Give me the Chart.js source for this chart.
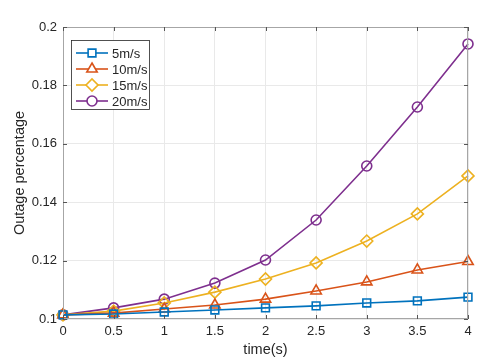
<!DOCTYPE html>
<html>
<head>
<meta charset="utf-8">
<script src="https://cdn.jsdelivr.net/npm/chart.js@4"></script>
<style>
  html, body { margin: 0; padding: 0; background: #fff; }
  #wrap { width: 485px; height: 363px; }
</style>
</head>
<body>
<div id="wrap"><canvas id="outageChart"></canvas></div>
<script>
// data
const times = [0, 0.5, 1, 1.5, 2, 2.5, 3, 3.5, 4];
const speed5 = [0.1014, 0.1017, 0.1024, 0.1031, 0.1038, 0.1045, 0.1055, 0.1062, 0.1075];
const speed10 = [0.1014, 0.1020, 0.1034, 0.1048, 0.1068, 0.1096, 0.1127, 0.1168, 0.1197];
const speed15 = [0.1014, 0.1027, 0.1055, 0.1092, 0.1137, 0.1192, 0.1267, 0.1360, 0.1490];
const speed20 = [0.1014, 0.1038, 0.1068, 0.1123, 0.1202, 0.1339, 0.1524, 0.1726, 0.1942];
const seriesNames = ['5m/s', '10m/s', '15m/s', '20m/s'];
const xTicks = [0, 0.5, 1, 1.5, 2, 2.5, 3, 3.5, 4];
const yTicks = [0.1, 0.12, 0.14, 0.16, 0.18, 0.2];

const FONT = 'Liberation Sans, Arial, Helvetica, sans-serif';
const TXT = '#262626';

function pts(ys) {
    return times.map((t, i) => ({ x: t, y: ys[i] }));
}

function series(label, ys, color, style, radius) {
    return {
        label: label,
        data: pts(ys),
        borderColor: color,
        backgroundColor: color,
        borderWidth: 1.6,
        pointStyle: style,
        pointRadius: radius,
        pointBorderWidth: 1.6,
        pointBackgroundColor: 'rgba(255,255,255,0)',
        pointBorderColor: color,
        tension: 0
    };
}

// MATLAB-like box with inward ticks and legend in the upper left
const boxPlugin = {
    id: 'boxPlugin',
    afterDatasetsDraw(chart) {
        const ctx = chart.ctx;
        const a = chart.chartArea;
        const xs = chart.scales.x, ys = chart.scales.y;
        ctx.save();
        ctx.strokeStyle = '#a6a6a6';
        ctx.lineWidth = 1;
        ctx.strokeRect(a.left + 0.5, a.top + 0.5, a.right - a.left - 1, a.bottom - a.top - 1);
        ctx.strokeStyle = '#555';
        ctx.beginPath();
        xTicks.forEach(v => {
            const px = Math.round(xs.getPixelForValue(v)) + 0.5;
            ctx.moveTo(px, a.bottom); ctx.lineTo(px, a.bottom - 4);
            ctx.moveTo(px, a.top); ctx.lineTo(px, a.top + 4);
        });
        yTicks.forEach(v => {
            const py = Math.round(ys.getPixelForValue(v)) + 0.5;
            ctx.moveTo(a.left, py); ctx.lineTo(a.left + 4, py);
            ctx.moveTo(a.right, py); ctx.lineTo(a.right - 4, py);
        });
        ctx.stroke();

        // legend
        const lx = 71, ly = 40, lw = 78, lh = 69;
        ctx.fillStyle = '#fff';
        ctx.fillRect(lx, ly, lw, lh);
        ctx.strokeStyle = '#262626';
        ctx.lineWidth = 0.8;
        ctx.strokeRect(lx + 0.5, ly + 0.5, lw, lh);
        chart.data.datasets.forEach((ds, i) => {
            const cy = 53 + i * 16;
            ctx.strokeStyle = ds.borderColor;
            ctx.lineWidth = 1.6;
            ctx.beginPath();
            ctx.moveTo(76, cy); ctx.lineTo(108, cy);
            ctx.stroke();
            ctx.fillStyle = '#fff';
            Chart.helpers.drawPoint(ctx, {
                pointStyle: ds.pointStyle,
                radius: ds.pointRadius,
                borderWidth: 1.6
            }, 92, cy);
            ctx.fillStyle = TXT;
            ctx.font = '13px ' + FONT;
            ctx.textBaseline = 'middle';
            ctx.textAlign = 'left';
            ctx.fillText(seriesNames[i], 112, cy + 1);
        });
        ctx.restore();
    }
};

new Chart(document.getElementById('outageChart'), {
    type: 'line',
    data: {
        datasets: [
            series(seriesNames[0], speed5, '#0072BD', 'rect', 5.5),
            series(seriesNames[1], speed10, '#D95319', 'triangle', 6),
            series(seriesNames[2], speed15, '#EDB120', 'rectRot', 6),
            series(seriesNames[3], speed20, '#7E2F8E', 'circle', 5)
        ]
    },
    options: {
        responsive: true,
        maintainAspectRatio: false,
        animation: false,
        clip: false,
        layout: { padding: { left: 0, top: 27, right: 17, bottom: 0 } },
        scales: {
            x: {
                type: 'linear',
                min: 0,
                max: 4,
                afterBuildTicks: s => { s.ticks = xTicks.map(v => ({ value: v })); },
                afterFit: s => { s.height = 44; },
                grid: { color: '#e9e9e9', drawTicks: false },
                border: { display: false },
                ticks: {
                    color: TXT,
                    padding: 5,
                    font: { family: FONT, size: 13 },
                    maxRotation: 0,
                    callback: v => String(v)
                },
                title: {
                    display: true,
                    text: 'time(s)',
                    color: TXT,
                    font: { family: FONT, size: 14.5 },
                    padding: { top: 0, bottom: 4 }
                }
            },
            y: {
                type: 'linear',
                min: 0.1,
                max: 0.2,
                afterBuildTicks: s => { s.ticks = yTicks.map(v => ({ value: v })); },
                afterFit: s => { s.width = 63; },
                grid: { color: '#e9e9e9', drawTicks: false },
                border: { display: false },
                ticks: {
                    color: TXT,
                    padding: 6,
                    font: { family: FONT, size: 13 },
                    callback: v => String(Math.round(v * 100) / 100)
                },
                title: {
                    display: true,
                    text: 'Outage percentage',
                    color: TXT,
                    font: { family: FONT, size: 14.5 },
                    padding: { top: 11, bottom: 0 }
                }
            }
        },
        plugins: {
            legend: { display: false },
            tooltip: { enabled: false }
        }
    },
    plugins: [boxPlugin]
});
</script>
</body>
</html>
